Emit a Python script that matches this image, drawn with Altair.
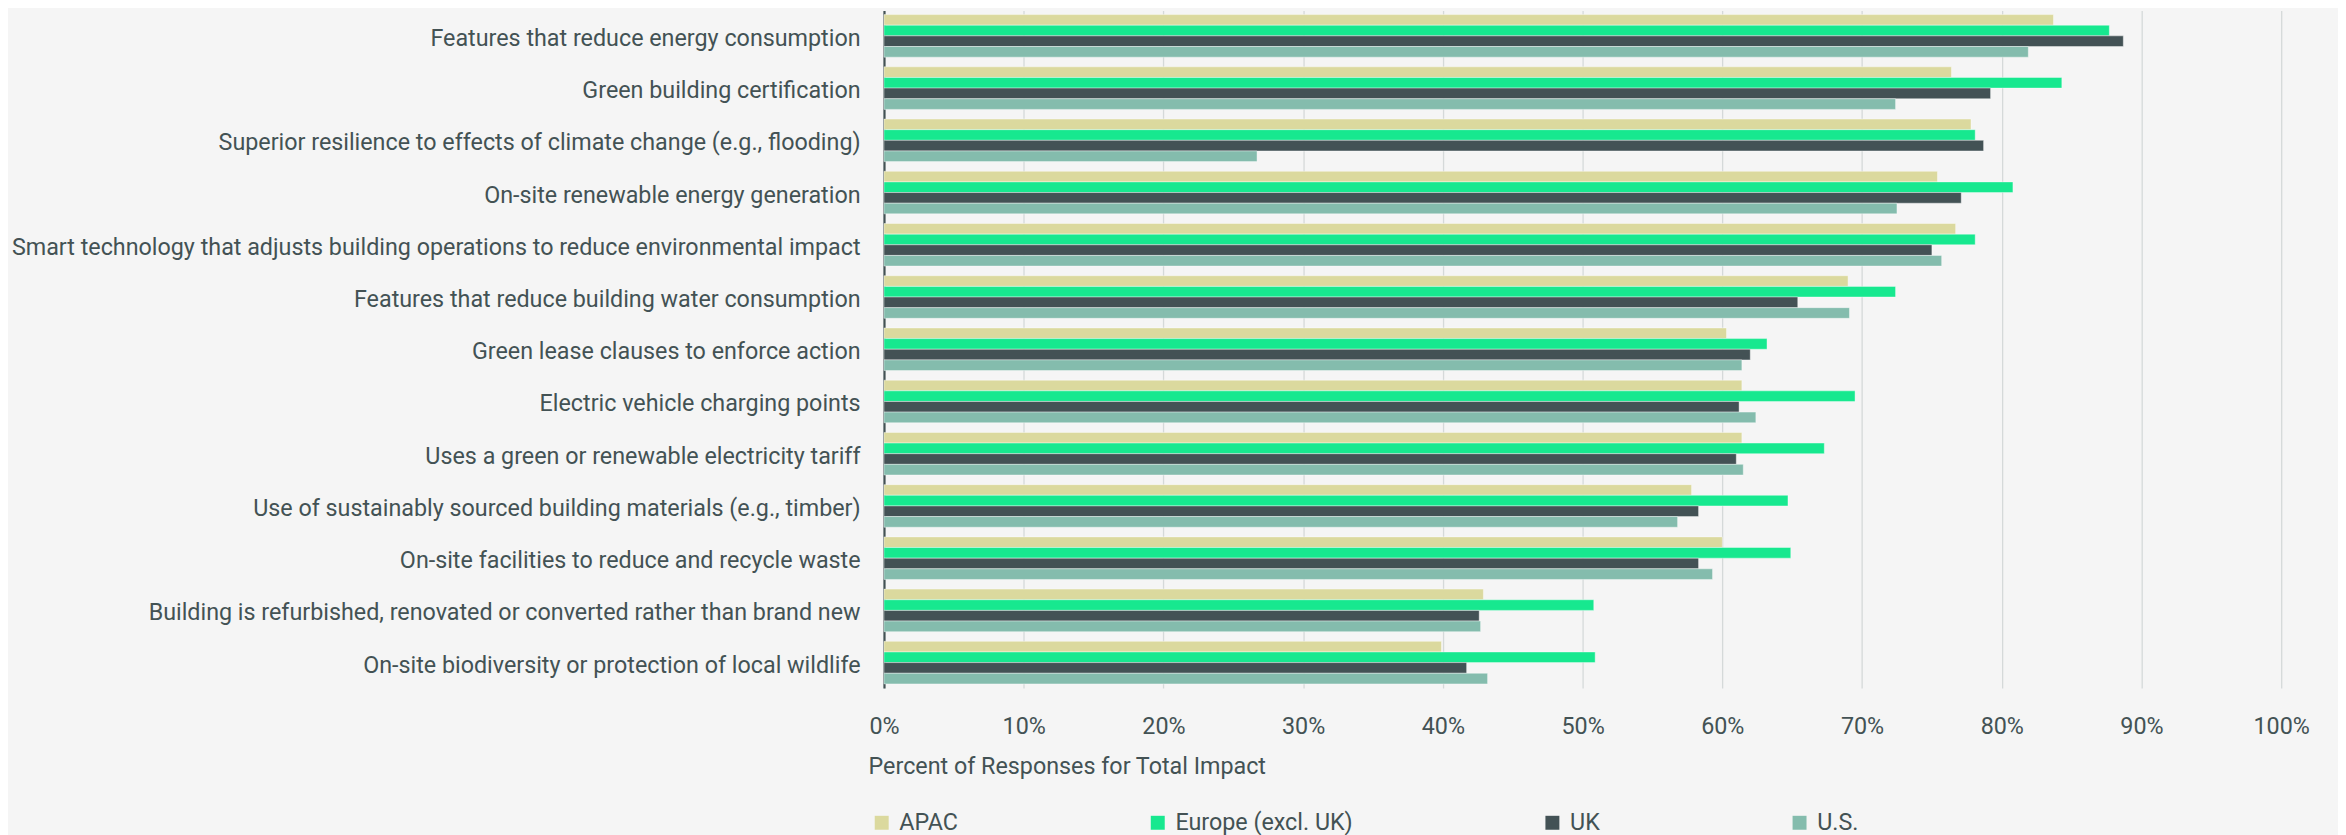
import altair as alt
import pandas as pd

categories = [
    "Features that reduce energy consumption",
    "Green building certification",
    "Superior resilience to effects of climate change (e.g., flooding)",
    "On-site renewable energy generation",
    "Smart technology that adjusts building operations to reduce environmental impact",
    "Features that reduce building water consumption",
    "Green lease clauses to enforce action",
    "Electric vehicle charging points",
    "Uses a green or renewable electricity tariff",
    "Use of sustainably sourced building materials (e.g., timber)",
    "On-site facilities to reduce and recycle waste",
    "Building is refurbished, renovated or converted rather than brand new",
    "On-site biodiversity or protection of local wildlife",
]
regions = ["APAC", "Europe (excl. UK)", "UK", "U.S."]
apac = [83.7, 76.4, 77.8, 75.4, 76.7, 69.0, 60.3, 61.4, 61.4, 57.8, 60.0, 42.9, 39.9]
europe = [87.7, 84.3, 78.1, 80.8, 78.1, 72.4, 63.2, 69.5, 67.3, 64.7, 64.9, 50.8, 50.9]
uk = [88.7, 79.2, 78.7, 77.1, 75.0, 65.4, 62.0, 61.2, 61.0, 58.3, 58.3, 42.6, 41.7]
us = [81.9, 72.4, 26.7, 72.5, 75.7, 69.1, 61.4, 62.4, 61.5, 56.8, 59.3, 42.7, 43.2]
tick_values = list(range(0, 101, 10))
colors = ["#dbd99e", "#17e88f", "#435255", "#84bcad"]

rows = []
for region, vals in zip(regions, [apac, europe, uk, us]):
    for cat, v in zip(categories, vals):
        rows.append({"category": cat, "region": region, "value": v})
df = pd.DataFrame(rows)

TEXT = "#435254"
FONT = "Roboto"
FS = 23.4

chart = alt.Chart(df).mark_bar(
    stroke="white", strokeOpacity=0.5, strokeWidth=0.8
).encode(
    x=alt.X(
        "value:Q",
        scale=alt.Scale(domain=[0, 100], nice=False),
        axis=alt.Axis(
            values=tick_values,
            labelExpr="datum.value + '%'",
            labelFlush=False,
            title="Percent of Responses for Total Impact",
            grid=True,
            gridColor="#d5d9d9",
            gridWidth=1.3,
            domain=False,
            ticks=False,
            labelPadding=28,
            labelFontSize=FS,
            labelColor=TEXT,
            labelFont=FONT,
            titleFont=FONT,
            titleFontSize=FS,
            titleFontWeight="normal",
            titleColor=TEXT,
            titleAnchor="start",
            titleAlign="left",
            titleX=-16,
            titleY=78.5,
            titleBaseline="middle",
        ),
    ),
    y=alt.Y(
        "category:N",
        sort=categories,
        scale=alt.Scale(paddingInner=0.185, paddingOuter=0.08),
        axis=alt.Axis(
            title=None,
            ticks=False,
            domain=True,
            domainColor=TEXT,
            domainWidth=2.2,
            labelFontSize=FS,
            labelFont=FONT,
            labelColor=TEXT,
            labelPadding=24,
            labelOffset=3,
            labelLimit=1000,
            grid=False,
        ),
    ),
    yOffset=alt.YOffset(
        "region:N", sort=regions, scale=alt.Scale(paddingInner=0, paddingOuter=0)
    ),
    color=alt.Color(
        "region:N",
        sort=regions,
        scale=alt.Scale(domain=regions, range=colors),
        legend=alt.Legend(
            title=None,
            orient="none",
            legendX=-14,
            legendY=803,
            direction="horizontal",
            columns=4,
            columnPadding=188,
            symbolType="square",
            symbolSize=196,
            symbolStrokeWidth=0,
            labelFontSize=FS,
            labelFont=FONT,
            labelColor=TEXT,
            labelOffset=6,
            labelLimit=400,
            padding=0,
        ),
    ),
).properties(
    width=1402,
    height=680,
    autosize=alt.AutoSizeParams(type="none"),
    padding={"left": 879, "top": 1, "right": 57, "bottom": 146},
    background="#f5f5f5",
).configure_view(stroke=None)

chart.save("out.html", embed_options={"renderer": "svg", "actions": False})
